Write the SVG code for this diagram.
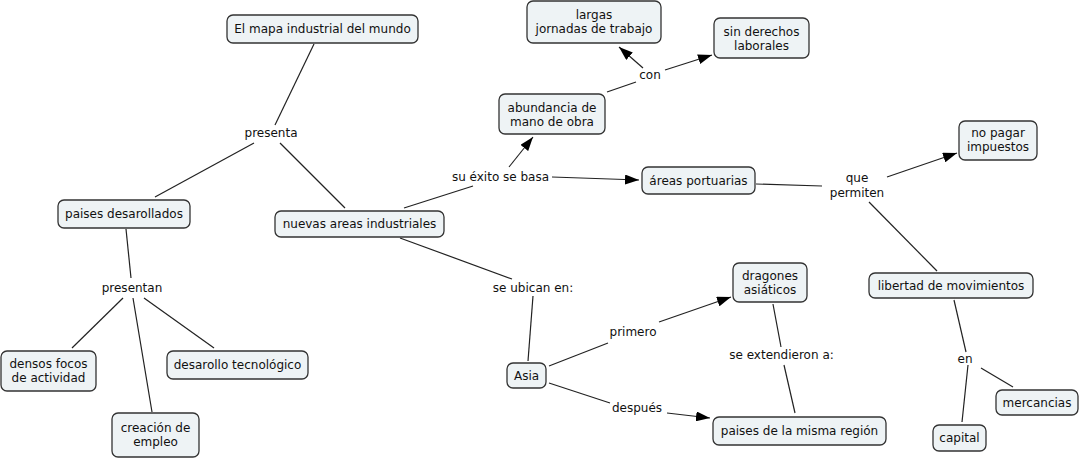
<svg xmlns="http://www.w3.org/2000/svg" width="1081" height="458" viewBox="0 0 1081 458">
<style>
.n rect{fill:#eef3f5;stroke:#333;stroke-width:1.3}
text{font-family:"DejaVu Sans",Verdana,sans-serif;font-size:12px;fill:#111;text-anchor:middle}
.c line{stroke:#222;stroke-width:1.2}
</style>
<defs>
<marker id="ar" viewBox="0 0 14 10" refX="14" refY="5" markerWidth="14" markerHeight="10" markerUnits="userSpaceOnUse" orient="auto"><path d="M0,0L14,5L0,10z" fill="#000"/></marker>
</defs>
<rect width="1081" height="458" fill="#fff"/>
<g class="c" id="connectors">
<line x1="314" y1="44" x2="275" y2="125"/>
<line x1="254" y1="143" x2="155" y2="197"/>
<line x1="280" y1="143" x2="345" y2="208"/>
<line x1="404" y1="208" x2="473" y2="186"/>
<line x1="509" y1="167" x2="533" y2="137" marker-end="url(#ar)"/>
<line x1="552" y1="177" x2="639" y2="180" marker-end="url(#ar)"/>
<line x1="607" y1="92" x2="636" y2="82"/>
<line x1="643" y1="68" x2="619" y2="47" marker-end="url(#ar)"/>
<line x1="665" y1="70" x2="712" y2="55" marker-end="url(#ar)"/>
<line x1="756" y1="184" x2="822" y2="186"/>
<line x1="887" y1="177" x2="957" y2="153" marker-end="url(#ar)"/>
<line x1="869" y1="202" x2="937" y2="271"/>
<line x1="954" y1="300" x2="966" y2="352"/>
<line x1="968" y1="365" x2="962" y2="422"/>
<line x1="981" y1="368" x2="1013" y2="387"/>
<line x1="400" y1="238" x2="512" y2="279"/>
<line x1="533" y1="296" x2="528" y2="361"/>
<line x1="549" y1="366" x2="608" y2="343"/>
<line x1="659" y1="322" x2="731" y2="297" marker-end="url(#ar)"/>
<line x1="549" y1="383" x2="610" y2="403"/>
<line x1="667" y1="413" x2="710" y2="418" marker-end="url(#ar)"/>
<line x1="773" y1="304" x2="781" y2="347"/>
<line x1="784" y1="365" x2="795" y2="413"/>
<line x1="126" y1="229" x2="131" y2="278"/>
<line x1="123" y1="298" x2="72" y2="348"/>
<line x1="133" y1="298" x2="152" y2="412"/>
<line x1="144" y1="298" x2="214" y2="348"/>
</g>
<g id="labels">
<text x="271" y="137">presenta</text>
<text x="500.5" y="181">su éxito se basa</text>
<text x="650" y="79">con</text>
<text x="857" y="182">que</text>
<text x="857" y="197">permiten</text>
<text x="965" y="363">en</text>
<text x="533" y="292">se ubican en:</text>
<text x="633" y="336">primero</text>
<text x="637" y="412">después</text>
<text x="781.5" y="359">se extendieron a:</text>
<text x="132" y="292">presentan</text>
</g>
<g class="n" id="n-mapa"><rect x="227" y="15" width="191" height="28" rx="6"/><text x="322.5" y="33">El mapa industrial del mundo</text></g>
<g class="n" id="n-paises"><rect x="58" y="200" width="132" height="28" rx="6"/><text x="124" y="218">paises desarollados</text></g>
<g class="n" id="n-nuevas"><rect x="275" y="211" width="169" height="26" rx="6"/><text x="359.5" y="227.5">nuevas areas industriales</text></g>
<g class="n" id="n-largas"><rect x="527" y="1" width="134" height="42" rx="6"/><text x="594" y="18.5">largas</text><text x="594" y="33">jornadas de trabajo</text></g>
<g class="n" id="n-sin"><rect x="714" y="18" width="95" height="40" rx="6"/><text x="761.5" y="35.5">sin derechos</text><text x="761.5" y="50">laborales</text></g>
<g class="n" id="n-abund"><rect x="499" y="94" width="106" height="40" rx="6"/><text x="552" y="111.5">abundancia de</text><text x="552" y="126">mano de obra</text></g>
<g class="n" id="n-areas"><rect x="642" y="167" width="113" height="27" rx="6"/><text x="698.5" y="184.5">áreas portuarias</text></g>
<g class="n" id="n-nopagar"><rect x="959" y="121" width="78" height="39" rx="6"/><text x="998" y="136.5">no pagar</text><text x="998" y="150.5">impuestos</text></g>
<g class="n" id="n-libertad"><rect x="869" y="273" width="164" height="25" rx="6"/><text x="951" y="289.5">libertad de movimientos</text></g>
<g class="n" id="n-merc"><rect x="996" y="390" width="82" height="25" rx="6"/><text x="1037" y="406.5">mercancias</text></g>
<g class="n" id="n-capital"><rect x="933" y="425" width="53" height="26" rx="6"/><text x="959.5" y="442">capital</text></g>
<g class="n" id="n-misma"><rect x="713" y="417" width="173" height="28" rx="6"/><text x="799.5" y="435">paises de la misma región</text></g>
<g class="n" id="n-dragones"><rect x="733" y="263" width="74" height="39" rx="6"/><text x="770" y="279.5">dragones</text><text x="770" y="293.5">asiáticos</text></g>
<g class="n" id="n-asia"><rect x="507" y="363" width="39" height="25" rx="6"/><text x="526.5" y="379.5">Asia</text></g>
<g class="n" id="n-densos"><rect x="1" y="351" width="95" height="40" rx="6"/><text x="48.5" y="367.5">densos focos</text><text x="48.5" y="381.5">de actividad</text></g>
<g class="n" id="n-desarollo"><rect x="167" y="351" width="141" height="28" rx="6"/><text x="237.5" y="369">desarollo tecnológico</text></g>
<g class="n" id="n-creacion"><rect x="112" y="413" width="87" height="44" rx="6"/><text x="155.5" y="432">creación de</text><text x="155.5" y="446">empleo</text></g>
</svg>
